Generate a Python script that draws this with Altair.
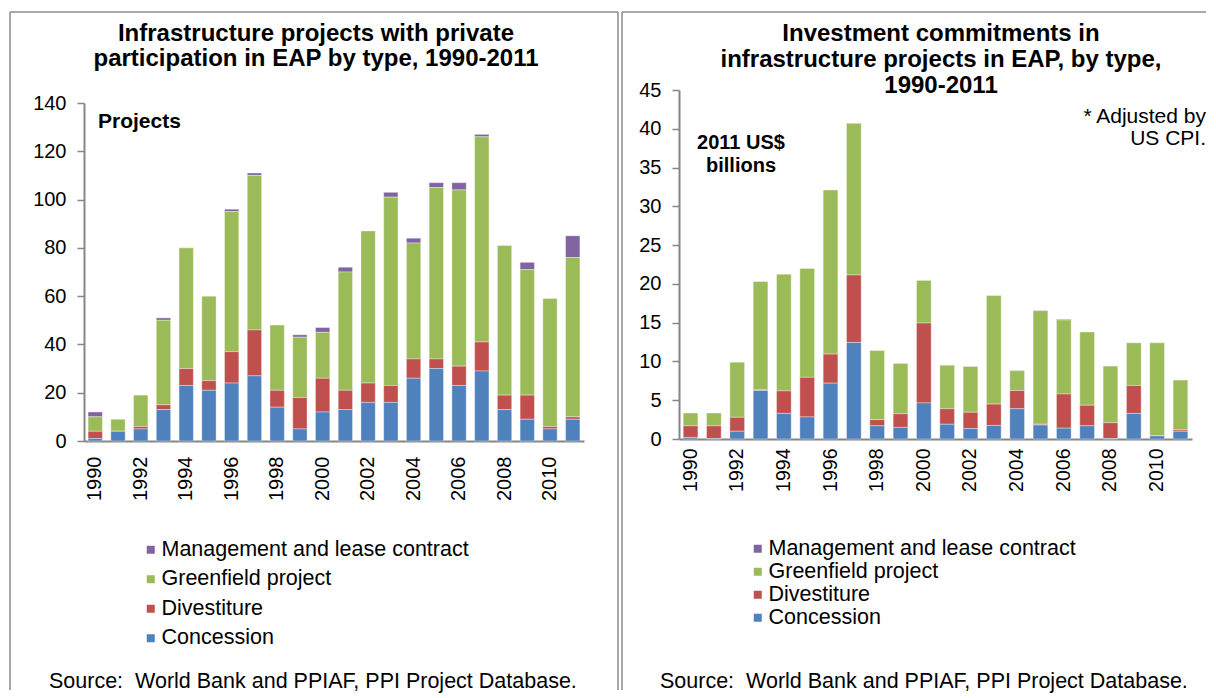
import altair as alt
import pandas as pd

FONT = "Liberation Sans"
BORDER = "#8c8c8c"
AXIS = "#868686"

years = ["1990", "1991", "1992", "1993", "1994", "1995", "1996", "1997", "1998", "1999", "2000",
         "2001", "2002", "2003", "2004", "2005", "2006", "2007", "2008", "2009", "2010", "2011"]
year_labels = ["1990", "1992", "1994", "1996", "1998", "2000", "2002", "2004", "2006", "2008", "2010"]

types = ["Management and lease contract", "Greenfield project", "Divestiture", "Concession"]
colors = ["#8064A2", "#9BBB59", "#C0504D", "#4F81BD"]
stack_rank = [3, 2, 1, 0]

# Number of projects
proj_concession = [1, 4, 5, 13, 23, 21, 24, 27, 14, 5, 12, 13, 16, 16, 26, 30, 23, 29, 13, 9, 5, 9]
proj_divestiture = [3, 0, 1, 2, 7, 4, 13, 19, 7, 13, 14, 8, 8, 7, 8, 4, 8, 12, 6, 10, 1, 1]
proj_greenfield = [6, 5, 13, 35, 50, 35, 58, 64, 27, 25, 19, 49, 63, 78, 48, 71, 73, 85, 62, 52, 53, 66]
proj_management = [2, 0, 0, 1, 0, 0, 1, 1, 0, 1, 2, 2, 0, 2, 2, 2, 3, 1, 0, 3, 0, 9]
proj_ticks = [0, 20, 40, 60, 80, 100, 120, 140]

# Investment commitments, 2011 US$ billions
inv_concession = [0.2, 0.05, 1.0, 6.25, 3.3, 2.85, 7.2, 12.45, 1.7, 1.5, 4.65, 1.9, 1.35, 1.75, 3.9, 1.8, 1.4, 1.7, 0.05, 3.3, 0.4, 1.0]
inv_divestiture = [1.5, 1.65, 1.8, 0.1, 2.9, 5.1, 3.75, 8.7, 0.8, 1.75, 10.3, 2.0, 2.1, 2.75, 2.35, 0.1, 4.4, 2.65, 2.05, 3.6, 0.0, 0.2]
inv_greenfield = [1.65, 1.65, 7.1, 13.95, 15.05, 14.05, 21.15, 19.55, 8.9, 6.5, 5.5, 5.6, 5.9, 14.0, 2.55, 14.65, 9.55, 9.45, 7.3, 5.5, 12.0, 6.4]
inv_management = [0, 0, 0, 0, 0, 0, 0, 0, 0, 0, 0, 0.05, 0, 0, 0.05, 0.05, 0.1, 0, 0, 0, 0, 0]
inv_ticks = [0, 5, 10, 15, 20, 25, 30, 35, 40, 45]

left_title = ["Infrastructure projects with private", "participation in EAP by type, 1990-2011"]
right_title = ["Investment commitments in", "infrastructure projects in EAP, by type,", "1990-2011"]
left_unit = "Projects"
right_unit = ["2011 US$", "billions"]
right_note = ["* Adjusted by", "US CPI."]
source = "Source:\u00a0 World Bank and PPIAF, PPI Project Database."


def to_long(series):
    rows = []
    for t, rank, vals in zip(types, stack_rank, series):
        for y, v in zip(years, vals):
            rows.append({"year": y, "type": t, "rank": rank, "value": v})
    return pd.DataFrame(rows)


df_proj = to_long([proj_management, proj_greenfield, proj_divestiture, proj_concession])
df_inv = to_long([inv_management, inv_greenfield, inv_divestiture, inv_concession])
one = pd.DataFrame({"k": [0]})


def bars(df, ymax, yticks, W, H, yrange, lx, ly, row_pad, xpad, xfs):
    return alt.Chart(df).mark_bar(stroke="white", strokeWidth=0.6, strokeOpacity=0.6).encode(
        x=alt.X("year:O", sort=years,
                scale=alt.Scale(paddingInner=0.37, paddingOuter=0.18),
                axis=alt.Axis(title=None, values=year_labels, labelAngle=270, ticks=False,
                              tickSize=0, labelPadding=xpad, labelFontSize=xfs)),
        y=alt.Y("value:Q", stack="zero",
                scale=alt.Scale(domain=[0, ymax], nice=False, zero=True, range=yrange),
                axis=alt.Axis(title=None, values=yticks, labelPadding=11)),
        color=alt.Color("type:N", scale=alt.Scale(domain=types, range=colors),
                        legend=alt.Legend(title=None, orient="none", legendX=lx, legendY=ly,
                                          direction="vertical", symbolType="square",
                                          symbolSize=64, symbolStrokeWidth=0,
                                          labelFontSize=21.5, labelFont=FONT, labelColor="black",
                                          rowPadding=row_pad, labelLimit=600, labelOffset=0)),
        order=alt.Order("rank:Q", sort="ascending"),
    ).properties(width=W, height=H)


def vrule(x, y, y2):
    return alt.Chart(one).mark_rule(color=BORDER, strokeWidth=1.5).encode(
        x=alt.value(x), y=alt.value(y), y2=alt.value(y2))


def hrule(x, x2, y):
    return alt.Chart(one).mark_rule(color=BORDER, strokeWidth=1.5).encode(
        x=alt.value(x), x2=alt.value(x2), y=alt.value(y))


def text(t, x, y, size, bold=False, align="left", line_height=25):
    return alt.Chart(one).mark_text(
        font=FONT, fontSize=size, fontWeight="bold" if bold else "normal",
        align=align, baseline="alphabetic", color="black", lineHeight=line_height
    ).encode(x=alt.value(x), y=alt.value(y), text=alt.value(t))


# both plot areas start at page y = 90
left = alt.layer(
    bars(df_proj, 140, proj_ticks, 500, 351, [351, 13], 56, 449, 6.5, 15, 20),
    vrule(-74, -78, 600),
    hrule(-74, 534, -78),
    vrule(534, -78, 600),
    text(left_title, 232, -49.5, 24, bold=True, align="center", line_height=25),
    text(left_unit, 14, 38, 21, bold=True),
    text(source, -35, 598, 21.5),
)

right = alt.layer(
    bars(df_inv, 45, inv_ticks, 513, 349, [349, 0], 68, 448, 0, 9, 19.5),
    vrule(-57, -78, 600),
    hrule(-57, 527, -78),
    text(right_title, 262, -49.5, 24, bold=True, align="center", line_height=26),
    text(right_unit, 62, 59, 20, bold=True, align="center", line_height=23),
    text(right_note, 527, 33, 21, align="right", line_height=22),
    text(source, -19, 598, 21.5),
)

chart = alt.hconcat(left, right, spacing=2).resolve_scale(
    x="independent", y="independent", color="independent"
).resolve_legend(color="independent").properties(
    padding={"left": 1, "top": 3, "right": 0, "bottom": 0}
).configure_view(strokeWidth=0).configure_axis(
    labelFont=FONT, labelFontSize=20, labelColor="black", domainColor=AXIS, domainWidth=2,
    tickColor=AXIS, tickWidth=1.5, tickSize=7, grid=False
)

chart.save("out.html", embed_options={"renderer": "svg", "actions": False})
